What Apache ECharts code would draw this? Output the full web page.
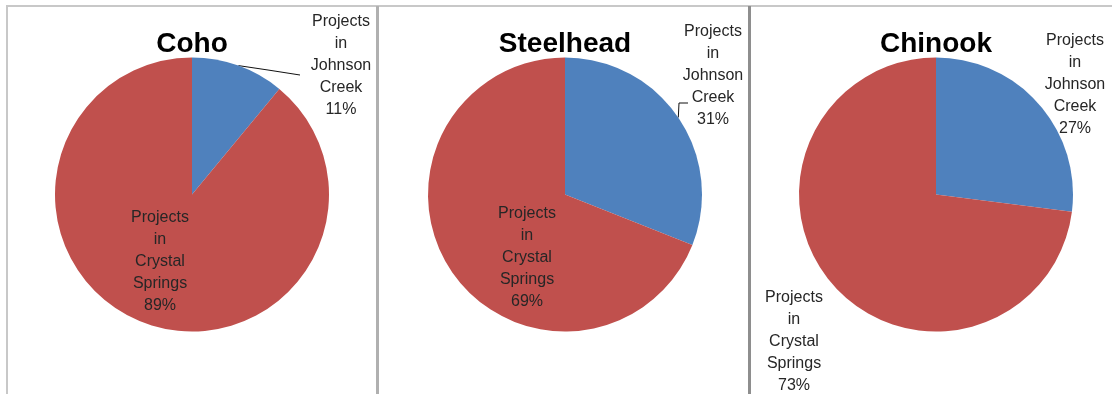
<!DOCTYPE html>
<html>
<head>
<meta charset="utf-8">
<script src="https://cdn.jsdelivr.net/npm/echarts@6/dist/echarts.min.js"></script>
<style>
html,body{margin:0;padding:0;background:#fff;}
#chart{width:1112px;height:394px;}
</style>
</head>
<body>
<div id="chart"></div>
<script>
// ---- data ----
const speciesNames = ['Coho', 'Steelhead', 'Chinook'];
const categories = ['Projects in Johnson Creek', 'Projects in Crystal Springs'];
const cohoValues = [11, 89];
const steelheadValues = [31, 69];
const chinookValues = [27, 73];

// ---- layout / style (not data) ----
const colors = ['#4F81BD', '#C0504D'];
const pieCenters = [[192, 194.5], [565, 194.5], [936, 194.5]];
const pieRadius = 137;
const titlePos = [[192, 44], [565, 44], [936, 44]];
// label centres per series, per data item
const labelPos = [
  [[341, 66], [160, 262]],
  [[713, 76], [527, 258]],
  [[1075, 85], [794, 342]]
];
// leader line mid/end points (null = no line)
const leaderPts = [
  [[[268, 70], [300, 75]], null],
  [[[679, 103], [688, 103]], null],
  [null, null]
];
const labelPlacement = [
  ['outside', 'inside'],
  ['outside', 'inside'],
  ['outside', 'outside']
];

const valueSets = [cohoValues, steelheadValues, chinookValues];

const chart = echarts.init(document.getElementById('chart'), null, {renderer: 'canvas'});

const series = speciesNames.map(function (sp, si) {
  return {
    name: sp,
    type: 'pie',
    center: pieCenters[si],
    radius: pieRadius,
    startAngle: 90,
    clockwise: true,
    avoidLabelOverlap: false,
    silent: true,
    animation: false,
    itemStyle: {borderWidth: 0},
    label: {
      fontFamily: 'Liberation Sans',
      fontSize: 16,
      lineHeight: 22,
      color: '#262626',
      align: 'center',
      formatter: function (p) {
        return p.name.split(' ').join('\n') + '\n' + p.value + '%';
      }
    },
    labelLine: {show: true, length: 10, length2: 10, lineStyle: {color: '#111', width: 1}},
    data: categories.map(function (c, di) {
      return {
        name: c,
        value: valueSets[si][di],
        itemStyle: {color: colors[di]},
        label: {position: labelPlacement[si][di]},
        labelLine: {show: !!leaderPts[si][di]}
      };
    }),
    labelLayout: function (p) {
      const pos = labelPos[si][p.dataIndex];
      const res = {x: pos[0], y: pos[1], align: 'center', verticalAlign: 'middle'};
      const lp = leaderPts[si][p.dataIndex];
      if (lp && p.labelLinePoints) {
        const start = p.labelLinePoints[0];
        res.labelLinePoints = [[start[0], start[1]], lp[0], lp[1]];
      }
      return res;
    }
  };
});

const graphics = [
  {type: 'line', shape: {x1: 6, y1: 6, x2: 1112, y2: 6}, style: {stroke: '#c8c8c8', lineWidth: 2}, silent: true},
  {type: 'line', shape: {x1: 7, y1: 6, x2: 7, y2: 394}, style: {stroke: '#c8c8c8', lineWidth: 2}, silent: true},
  {type: 'line', shape: {x1: 377.5, y1: 6, x2: 377.5, y2: 394}, style: {stroke: '#b0b0b0', lineWidth: 3}, silent: true},
  {type: 'line', shape: {x1: 749.5, y1: 6, x2: 749.5, y2: 394}, style: {stroke: '#8e8e8e', lineWidth: 3}, silent: true}
];
speciesNames.forEach(function (sp, i) {
  graphics.push({
    type: 'text',
    silent: true,
    style: {
      x: titlePos[i][0], y: titlePos[i][1],
      text: sp,
      align: 'center', verticalAlign: 'middle',
      font: 'bold 28px "Liberation Sans"',
      fill: '#000'
    }
  });
});

chart.setOption({
  backgroundColor: '#fff',
  animation: false,
  graphic: graphics,
  series: series
});
</script>
</body>
</html>
